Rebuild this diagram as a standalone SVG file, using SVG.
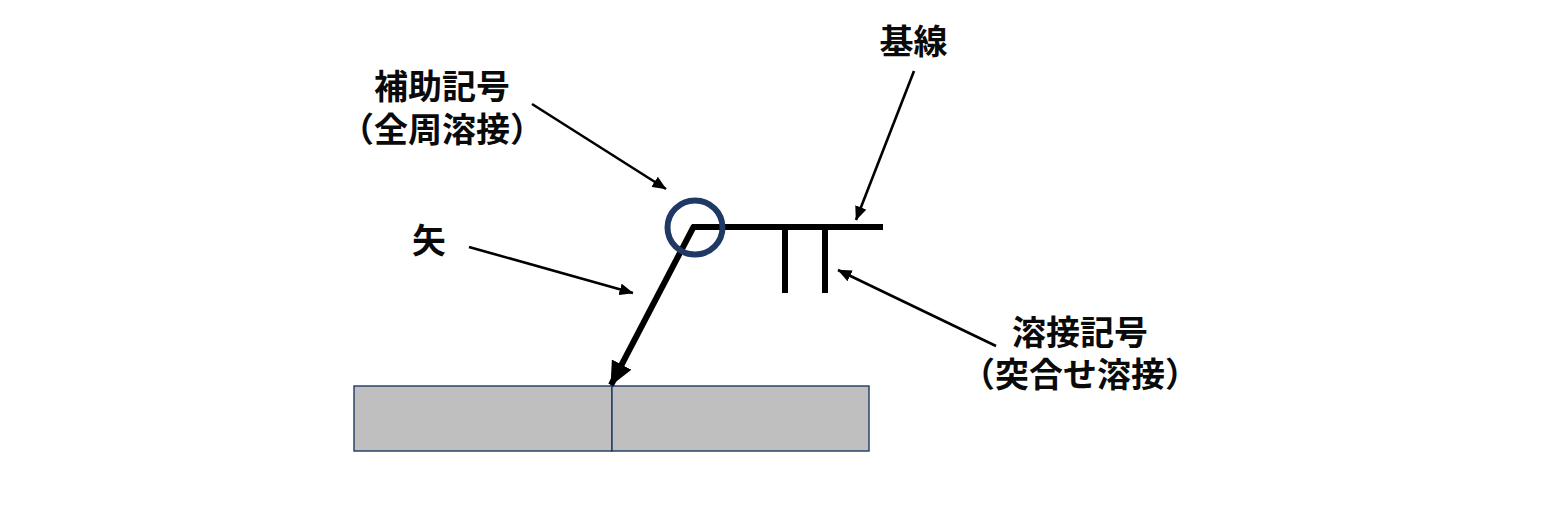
<svg xmlns="http://www.w3.org/2000/svg" width="1554" height="508" viewBox="0 0 1554 508">
<style>
text{font-family:"Noto Sans CJK JP","Noto Sans",sans-serif;font-size:34px;font-weight:700;fill:#0a0a0a;text-anchor:middle}
.thin{stroke:#000;stroke-width:2.6;fill:none}
.thick{stroke:#000;stroke-width:6;fill:none}
.plate{fill:#bfbfbf;stroke:#1f3864;stroke-width:1.4}
</style>
<defs>
<marker id="a" markerUnits="userSpaceOnUse" markerWidth="14" markerHeight="12" refX="13.5" refY="6" orient="auto"><path d="M0 0L14 6L0 12Z" fill="#000"/></marker>
<marker id="b" markerUnits="userSpaceOnUse" markerWidth="24" markerHeight="22" refX="23" refY="11" orient="auto"><path d="M0 0L24 11L0 22Z" fill="#000"/></marker>
</defs>
<g id="plate-left"><rect class="plate" x="354" y="386" width="258" height="65"/></g>
<g id="plate-right"><rect class="plate" x="612" y="386" width="257" height="65"/></g>
<g id="weld-symbol">
<path class="thick" d="M692 227H883M785 227V293M825 227V293"/>
</g>
<g id="connectors">
<path class="thick" d="M694 226L611 385" marker-end="url(#b)"/>
<path class="thin" d="M532 104L666 189" marker-end="url(#a)"/>
<path class="thin" d="M914 71L856 220" marker-end="url(#a)"/>
<path class="thin" d="M469 247L633 293" marker-end="url(#a)"/>
<path class="thin" d="M996 346L838 270" marker-end="url(#a)"/>
</g>
<g id="all-around-circle"><ellipse cx="695" cy="227.500" rx="27.500" ry="27" fill="none" stroke="#1f3864" stroke-width="6"/></g>
<g id="label-base"><text x="913.500" y="54">基線</text></g>
<g id="label-aux"><text x="442" y="99">補助記号</text><text x="442" y="141.500">（全周溶接）</text></g>
<g id="label-arrow"><text x="429" y="253">矢</text></g>
<g id="label-weld"><text x="1080" y="345">溶接記号</text><text x="1080" y="387">（突合せ溶接）</text></g>
</svg>
